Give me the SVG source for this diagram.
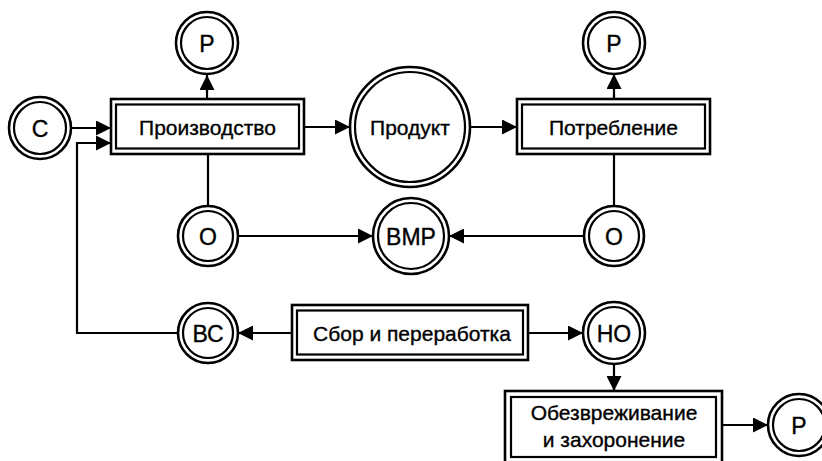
<svg xmlns="http://www.w3.org/2000/svg" width="822" height="461" viewBox="0 0 822 461">
<defs>
<marker id="ah" markerUnits="userSpaceOnUse" markerWidth="16" markerHeight="15" refX="15" refY="7.5" orient="auto">
<path d="M0,0 L15,7.5 L0,15 z" fill="#000"/>
</marker>
<style>
.o{fill:#fff;stroke:#000;stroke-width:2.6}
.i{fill:none;stroke:#000;stroke-width:2.2}
.t{font-family:"Liberation Sans",Arial,sans-serif;font-size:21px;fill:#000;stroke:#000;stroke-width:0.35;text-anchor:middle}
.l{font-size:23px}
.c{fill:none;stroke:#000;stroke-width:2.2}
.a{marker-end:url(#ah)}
</style>
</defs>
<rect width="822" height="461" fill="#fff"/>
<g id="connectors">
<path class="c a" d="M71,128 H111"/>
<path class="c a" d="M178,333 H77 V143 H111"/>
<path class="c a" d="M207,99 V75"/>
<path class="c a" d="M304,127 H350"/>
<path class="c a" d="M470,127 H517"/>
<path class="c a" d="M614,99 V74"/>
<path class="c" d="M208,154 V206"/>
<path class="c" d="M614,154 V206"/>
<path class="c a" d="M238,236 H373"/>
<path class="c a" d="M584,236 H449"/>
<path class="c a" d="M292,333 H238"/>
<path class="c a" d="M528,333 H583"/>
<path class="c a" d="M614,364 V391"/>
<path class="c a" d="M722,425 H768"/>
</g>
<g id="n-c"><circle class="o" cx="40" cy="128" r="31"/><circle class="i" cx="40" cy="128" r="26"/><text class="t l" x="40" y="136.5">С</text></g>
<g id="n-p1"><circle class="o" cx="207" cy="43" r="31"/><circle class="i" cx="207" cy="43" r="26"/><text class="t l" x="207" y="51.5">Р</text></g>
<g id="n-proizv"><rect class="o" x="111" y="99" width="193" height="55"/><rect class="i" x="116" y="104.5" width="183" height="44"/><text class="t" x="207.5" y="134.5">Производство</text></g>
<g id="n-produkt"><circle class="o" cx="410" cy="127" r="60"/><circle class="i" cx="410" cy="127" r="55"/><text class="t" x="410" y="135">Продукт</text></g>
<g id="n-potr"><rect class="o" x="517" y="99" width="193" height="55"/><rect class="i" x="522" y="104.5" width="183" height="44"/><text class="t" x="613.5" y="134.5">Потребление</text></g>
<g id="n-p2"><circle class="o" cx="614" cy="43" r="31"/><circle class="i" cx="614" cy="43" r="26"/><text class="t l" x="614" y="51.5">Р</text></g>
<g id="n-o1"><circle class="o" cx="208" cy="236" r="30"/><circle class="i" cx="208" cy="236" r="25"/><text class="t l" x="208" y="244.5">О</text></g>
<g id="n-vmr"><circle class="o" cx="411" cy="236" r="38"/><circle class="i" cx="411" cy="236" r="33"/><text class="t l" x="411" y="244.5">ВМР</text></g>
<g id="n-o2"><circle class="o" cx="614" cy="236" r="30"/><circle class="i" cx="614" cy="236" r="25"/><text class="t l" x="614" y="244.5">О</text></g>
<g id="n-vs"><circle class="o" cx="208" cy="333" r="30"/><circle class="i" cx="208" cy="333" r="25"/><text class="t l" x="208" y="341.5">ВС</text></g>
<g id="n-sbor"><rect class="o" x="292" y="305" width="236" height="55"/><rect class="i" x="297" y="310.5" width="226" height="44"/><text class="t" x="412" y="341">Сбор и переработка</text></g>
<g id="n-no"><circle class="o" cx="614" cy="333" r="31"/><circle class="i" cx="614" cy="333" r="26"/><text class="t l" x="614" y="341.5">НО</text></g>
<g id="n-obez"><rect class="o" x="505" y="391" width="217" height="72"/><rect class="i" x="511" y="397" width="205" height="60"/><text class="t" x="614" y="420">Обезвреживание</text><text class="t" x="614" y="447">и захоронение</text></g>
<g id="n-p3"><circle class="o" cx="799" cy="425" r="31"/><circle class="i" cx="799" cy="425" r="26"/><text class="t l" x="799" y="433.5">Р</text></g>
</svg>
